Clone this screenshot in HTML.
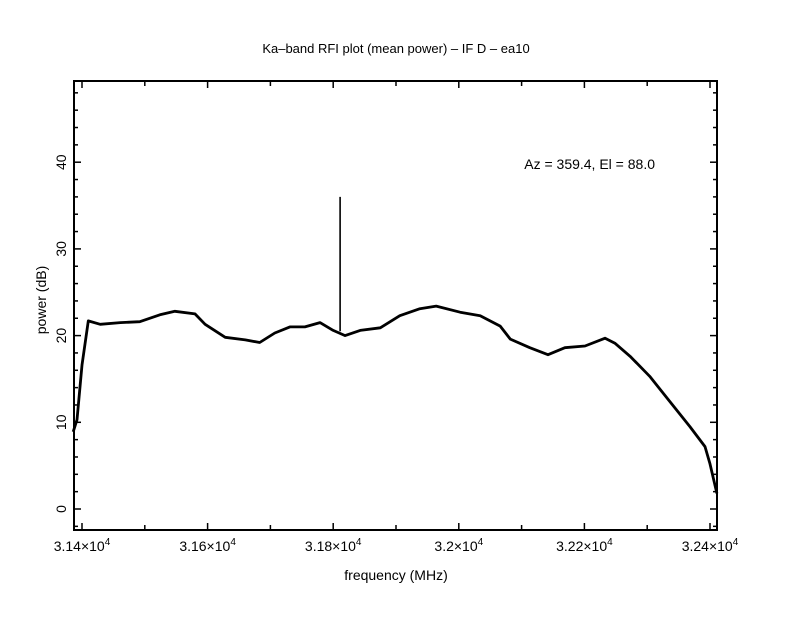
<!DOCTYPE html>
<html><head><meta charset="utf-8"><style>
html,body{margin:0;padding:0;background:#fff;}
svg text{font-family:"Liberation Sans",sans-serif;fill:#000;}
</style></head><body>
<svg id="chart" width="792" height="612" viewBox="0 0 792 612">
<rect x="0" y="0" width="792" height="612" fill="#fff"/>
<text x="396" y="53" text-anchor="middle" font-size="13">Ka–band RFI plot (mean power) – IF D – ea10</text>
<text x="396" y="580" text-anchor="middle" font-size="14">frequency (MHz)</text>
<text x="0" y="0" transform="translate(46,300) rotate(-90)" text-anchor="middle" font-size="14">power (dB)</text>
<text x="655" y="169" text-anchor="end" font-size="14">Az = 359.4, El = 88.0</text>
<g id="axes"></g>
<g id="series"></g>
<rect x="74" y="81" width="643" height="449" fill="none" stroke="#000" stroke-width="2"/>
</svg>
<script>
const freqs=[31386,31392,31400,31410,31429,31461,31492,31524,31548,31580,31596,31628,31660,31683,31707,31731,31755,31779,31800,31819,31843,31875,31906,31938,31964,32002,32034,32066,32082,32113,32142,32169,32201,32233,32249,32273,32304,32336,32368,32392,32400,32411];
const power=[8.9,10.3,16.6,21.7,21.3,21.5,21.6,22.4,22.8,22.5,21.3,19.8,19.5,19.2,20.3,21.0,21.0,21.5,20.6,20.0,20.6,20.9,22.3,23.1,23.4,22.7,22.3,21.1,19.6,18.6,17.8,18.6,18.8,19.7,19.1,17.6,15.3,12.4,9.5,7.2,5.2,1.8];
const spikeFreq=[31811];
const spikeBase=[20.5];
const spikePeak=[36];
const xTickVals=[31400,31600,31800,32000,32200,32400];
const xTickLabels=["3.14","3.16","3.18","3.2","3.22","3.24"];
const yTickVals=[0,10,20,30,40];
const NS="http://www.w3.org/2000/svg";
function X(f){return 82+(f-31400)*0.628;}
function Y(d){return 509-d*8.67;}
const axes=document.getElementById('axes');
function line(x1,y1,x2,y2,name,parent,w){const l=document.createElementNS(NS,'line');
l.setAttribute('x1',x1);l.setAttribute('y1',y1);l.setAttribute('x2',x2);l.setAttribute('y2',y2);
l.setAttribute('stroke','#000');l.setAttribute('stroke-width',w||'1.5');


(parent||axes).appendChild(l);}
for(let f=31400;f<=32400;f+=100){const x=X(f);const len=(f%200===0)?7:5;
line(x,530,x,530-len,'x-tick');line(x,81,x,81+len,'x-tick-top');}
for(let d=-2;d<=48;d+=2){const y=Y(d);const len=(d%10===0)?7:4;
line(74,y,74+len,y,'y-tick');line(717,y,717-len,y,'y-tick-right');}
xTickVals.forEach((v,i)=>{const t=document.createElementNS(NS,'text');
t.setAttribute('x',X(v));t.setAttribute('y',551);t.setAttribute('text-anchor','middle');t.setAttribute('font-size','14');


t.innerHTML=xTickLabels[i]+'×10<tspan font-size="10" dy="-6">4</tspan>';axes.appendChild(t);});
yTickVals.forEach(v=>{const t=document.createElementNS(NS,'text');
t.setAttribute('transform','translate(66,'+Y(v)+') rotate(-90)');t.setAttribute('text-anchor','middle');t.setAttribute('font-size','14');


t.textContent=v;axes.appendChild(t);});
const series=document.getElementById('series');
const p=document.createElementNS(NS,'polyline');
p.setAttribute('points',freqs.map((f,i)=>X(f).toFixed(1)+','+Y(power[i]).toFixed(1)).join(' '));
p.setAttribute('fill','none');p.setAttribute('stroke','#000');p.setAttribute('stroke-width','2.8');p.setAttribute('stroke-linejoin','round');


series.appendChild(p);
spikeFreq.forEach((f,i)=>line(X(f),Y(spikeBase[i]),X(f),Y(spikePeak[i]),'rfi-spike',series,'1.6'));
</script>
</body></html>
